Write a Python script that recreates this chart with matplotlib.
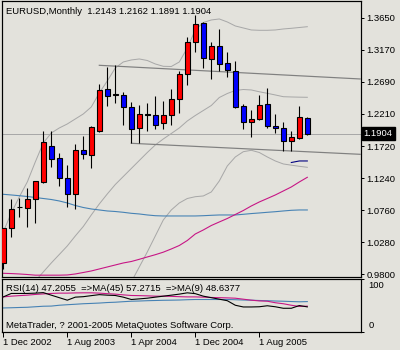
import matplotlib
matplotlib.use('Agg')
import matplotlib.pyplot as plt
from matplotlib.patches import Rectangle
import matplotlib.transforms as mtransforms

plt.rcParams['font.family'] = ['Liberation Sans', 'DejaVu Sans']

# ---------------- data ----------------
title_text = "EURUSD,Monthly  1.2143 1.2162 1.1891 1.1904"
tick_idx = [0, 8, 16, 24, 32]
tick_labels = ['1 Dec 2002', '1 Aug 2003', '1 Apr 2004', '1 Dec 2004', '1 Aug 2005']
price_ticks = [1.3650, 1.3170, 1.2690, 1.2210, 1.1720, 1.1240, 1.0760, 1.0280, 0.9800]
bid_price = 1.1904

opens = [0.9963, 1.0497, 1.0805, 1.0788, 1.0923, 1.1187, 1.1723, 1.1538, 1.1238, 1.1003,
         1.1663, 1.1583, 1.1948, 1.2578, 1.2490, 1.2488, 1.2312, 1.1997, 1.2198, 1.2183,
         1.2063, 1.2183, 1.2432, 1.2803, 1.3287, 1.3572, 1.3032, 1.3223, 1.2972, 1.2852,
         1.2323, 1.2087, 1.2123, 1.2353, 1.2023, 1.1988, 1.1798, 1.1838, 1.2143]
highs = [1.0500, 1.0930, 1.0938, 1.1088, 1.1193, 1.1948, 1.1948, 1.1618, 1.1438, 1.1757,
         1.1873, 1.2023, 1.2657, 1.2912, 1.2938, 1.2537, 1.2387, 1.2333, 1.2363, 1.2473,
         1.2398, 1.2578, 1.2848, 1.3362, 1.3688, 1.3580, 1.3278, 1.3473, 1.3128, 1.2998,
         1.2348, 1.2263, 1.2488, 1.2588, 1.2198, 1.2087, 1.1948, 1.2323, 1.2162]
lows = [0.9880, 1.0353, 1.0662, 1.0512, 1.0563, 1.1163, 1.1403, 1.1123, 1.0803, 1.0773,
        1.1532, 1.1388, 1.1928, 1.2327, 1.2372, 1.2038, 1.1763, 1.1765, 1.1948, 1.1973,
        1.1973, 1.2033, 1.2222, 1.2638, 1.3137, 1.2888, 1.2728, 1.2848, 1.2762, 1.2290,
        1.1978, 1.1862, 1.2113, 1.1988, 1.1913, 1.1648, 1.1652, 1.1823, 1.1891]
closes = [1.0497, 1.0773, 1.0815, 1.0923, 1.1193, 1.1778, 1.1523, 1.1238, 1.1003, 1.1658,
          1.1598, 1.2003, 1.2558, 1.2477, 1.2500, 1.2312, 1.1982, 1.2198, 1.2188, 1.2033,
          1.2188, 1.2428, 1.2798, 1.3278, 1.3553, 1.3038, 1.3223, 1.2957, 1.2867, 1.2303,
          1.2087, 1.2123, 1.2338, 1.2027, 1.1988, 1.1798, 1.1853, 1.2153, 1.1904]

bb_upper = [1.0433, 1.0718, 1.0958, 1.1183, 1.1483, 1.1768, 1.1918, 1.1993, 1.2053, 1.2128,
            1.2203, 1.2308, 1.2518, 1.2698, 1.2893, 1.2983, 1.3013, 1.3028, 1.3005, 1.2953,
            1.2918, 1.2915, 1.2983, 1.3193, 1.3463, 1.3575, 1.3613, 1.3628, 1.3583, 1.3523,
            1.3493, 1.3463, 1.3458, 1.3458, 1.3463, 1.3478, 1.3488, 1.3500, 1.3512]
bb_middle = [0.9188, 0.9308, 0.9443, 0.9563, 0.9698, 0.9833, 0.9968, 1.0095, 1.0223, 1.0373,
             1.0515, 1.0688, 1.0853, 1.1003, 1.1145, 1.1265, 1.1385, 1.1505, 1.1625, 1.1738,
             1.1828, 1.1910, 1.1993, 1.2098, 1.2180, 1.2255, 1.2330, 1.2450, 1.2510, 1.2555,
             1.2570, 1.2563, 1.2536, 1.2513, 1.2488, 1.2462, 1.2458, 1.2455, 1.2453]
bb_lower_start = 14
bb_lower = [0.9263, 0.9458, 0.9683, 0.9908, 1.0133, 1.0373, 1.0613, 1.0763, 1.0868, 1.0935,
            1.0962, 1.0973, 1.1033, 1.1198, 1.1423, 1.1558, 1.1637, 1.1658, 1.1625, 1.1558,
            1.1498, 1.1453, 1.1435, 1.1418, 1.1403]

ma_blue = [1.0998, 1.0988, 1.0977, 1.0965, 1.0950, 1.0935, 1.0920, 1.0898, 1.0868, 1.0830,
           1.0800, 1.0778, 1.0763, 1.0748, 1.0740, 1.0728, 1.0713, 1.0703, 1.0688, 1.0677,
           1.0673, 1.0673, 1.0673, 1.0673, 1.0673, 1.0677, 1.0683, 1.0688, 1.0688, 1.0688,
           1.0698, 1.0709, 1.0718, 1.0728, 1.0737, 1.0748, 1.0758, 1.0763, 1.0763]
ma_magenta = [0.9813, 0.9809, 0.9803, 0.9795, 0.9785, 0.9785, 0.9785, 0.9785, 0.9788, 0.9803,
              0.9825, 0.9848, 0.9878, 0.9908, 0.9938, 0.9968, 0.9990, 1.0023, 1.0058, 1.0092,
              1.0130, 1.0178, 1.0230, 1.0305, 1.0403, 1.0463, 1.0530, 1.0583, 1.0635, 1.0695,
              1.0755, 1.0823, 1.0883, 1.0935, 1.0988, 1.1048, 1.1108, 1.1183, 1.1253]
navy_idx = [36, 37, 38]
navy_vals = [1.1475, 1.1498, 1.1498]

trend_hi_idx = [12, 44.6]
trend_hi_val = [1.2933, 1.2728]
trend_lo_idx = [16, 44.6]
trend_lo_val = [1.1763, 1.1598]

rsi = [66.3, 72.9, 72.9, 72.9, 73.5, 74.5, 69.6, 64.8, 60.0, 65.8,
       66.7, 68.7, 70.6, 69.6, 69.0, 65.8, 61.3, 62.5, 63.8, 65.8,
       67.7, 69.6, 71.6, 74.1, 72.5, 67.7, 64.8, 61.9, 59.0, 50.3,
       47.0, 47.0, 47.4, 49.3, 47.4, 44.5, 44.5, 49.7, 47.2]
rsi_ma9 = [66.3, 67.7, 68.7, 69.6, 71.0, 72.0, 72.9, 73.5, 73.5, 73.9,
           74.1, 74.1, 73.5, 72.5, 71.6, 70.2, 69.0, 68.7, 68.3, 67.7,
           67.7, 67.3, 66.7, 66.3, 66.3, 65.8, 65.2, 64.8, 64.4, 63.8,
           61.9, 60.0, 58.6, 58.0, 55.1, 53.2, 50.3, 48.0, 48.6]
rsi_ma45 = [45.1, 45.5, 46.0, 46.4, 47.4, 48.4, 48.7, 50.3, 51.3, 52.2,
            53.2, 53.8, 54.5, 55.5, 56.1, 57.1, 58.0, 58.4, 59.0, 59.4,
            59.8, 60.0, 60.3, 60.9, 61.3, 61.3, 61.3, 61.3, 61.3, 60.9,
            60.3, 60.0, 59.4, 59.0, 58.4, 58.0, 57.4, 56.9, 57.3]
rsi_text = "RSI(14) 47.2055  =>MA(45) 57.2715  =>MA(9) 48.6377"
copyright_text = "MetaTrader, ? 2001-2005 MetaQuotes Software Corp."

# ---------------- style ----------------
BG = '#e3e2dc'
UP = '#ff0000'
DOWN = '#0000ff'
BAND = '#a8a8a8'
TREND = '#808080'
STEEL = '#4682b4'
MAG = '#c71585'
NAVY = '#000080'
FS = 6.8
PX = 0.72  # one pixel in points

W, H = 400.0, 350.0
fig = plt.figure(figsize=(4, 3.5), dpi=100, facecolor=BG)


def box(l, t, r, b):
    return [l / W, 1 - b / H, (r - l) / W, (b - t) / H]


ax = fig.add_axes(box(2, 1, 361, 276.5))
ax2 = fig.add_axes(box(2, 279.3, 361, 331.5))
for a in (ax, ax2):
    a.set_facecolor(BG)
    for s in a.spines.values():
        s.set_linewidth(PX * 1.2)
        s.set_color('black')
    a.set_xlim(-0.16, 44.71)

n = len(closes)
xs = list(range(n))

# ----- main chart -----
ax.set_ylim(0.9765, 1.38975)
ax.axhline(bid_price, color=BAND, lw=PX, zorder=1)
ax.plot(xs, bb_upper, color=BAND, lw=PX, zorder=1)
ax.plot(xs, bb_middle, color=BAND, lw=PX, zorder=1)
ax.plot(xs[bb_lower_start:], bb_lower, color=BAND, lw=PX, zorder=1)
ax.plot(trend_hi_idx, trend_hi_val, color=TREND, lw=PX * 1.2, zorder=1.5)
ax.plot(trend_lo_idx, trend_lo_val, color=TREND, lw=PX * 1.2, zorder=1.5)
ax.plot(xs, ma_blue, color=STEEL, lw=PX * 1.1, zorder=2)
ax.plot(xs, ma_magenta, color=MAG, lw=PX * 1.1, zorder=2)
ax.plot(navy_idx, navy_vals, color=NAVY, lw=PX * 1.1, zorder=2)

bw = 0.56
for i in xs:
    o, h, l, c = opens[i], highs[i], lows[i], closes[i]
    ax.plot([i, i], [l, h], color='black', lw=PX * 1.1, zorder=3, solid_capstyle='butt')
    col = UP if c >= o else DOWN
    ax.add_patch(Rectangle((i - bw / 2, min(o, c)), bw, abs(c - o),
                           facecolor=col, edgecolor='black', lw=PX * 1.1, zorder=4))

ax.yaxis.tick_right()
ax.set_yticks(price_ticks)
ax.set_yticklabels(['%.4f' % p for p in price_ticks], fontsize=FS)
ax.tick_params(axis='y', direction='out', length=2.4, width=PX, pad=1.6, colors='black')
ax.set_xticks([])

trans = mtransforms.blended_transform_factory(ax.transAxes, ax.transData)
ax.text(1.0075, bid_price, '%.4f' % bid_price, transform=trans, color='white',
        fontsize=FS, va='center', ha='left',
        bbox=dict(facecolor='black', edgecolor='black', boxstyle='square,pad=0.22'),
        zorder=10)

fig.text(6.5 / W, 1 - 11 / H, title_text, fontsize=FS, va='center', ha='left', color='black')

# ----- RSI subwindow -----
ax2.set_ylim(0, 100)
ax2.plot(xs, rsi_ma45, color=STEEL, lw=PX * 1.1, zorder=2)
ax2.plot(xs, rsi_ma9, color=MAG, lw=PX * 1.1, zorder=3)
ax2.plot(xs, rsi, color='black', lw=PX * 1.1, zorder=4)
ax2.yaxis.tick_right()
ax2.set_yticks([0, 100])
ax2.set_yticklabels([])
ax2.tick_params(axis='y', direction='out', length=2.4, width=PX)
ax2.text(1.02, 1 - 6 / 52.2, '100', transform=ax2.transAxes, fontsize=FS, va='center', ha='left')
ax2.text(1.02, 6.5 / 52.2, '0', transform=ax2.transAxes, fontsize=FS, va='center', ha='left')
ax2.set_xticks(tick_idx)
ax2.set_xticklabels(tick_labels, fontsize=FS, ha='left')
ax2.tick_params(axis='x', direction='out', length=3.6, width=PX, pad=1.0)
fig.text(6 / W, 1 - 288.7 / H, rsi_text, fontsize=FS, va='center', ha='left')
fig.text(6 / W, 1 - 325 / H, copyright_text, fontsize=FS, va='center', ha='left')

fig.savefig('out.png', dpi=100, facecolor=BG)
